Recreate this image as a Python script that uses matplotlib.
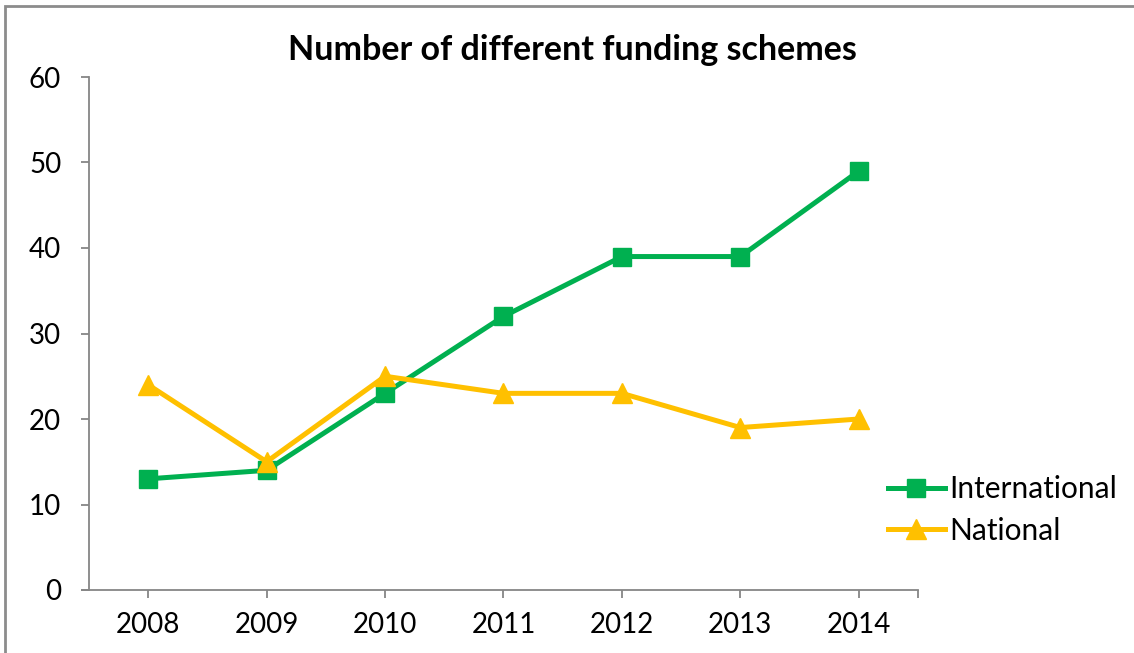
import matplotlib
matplotlib.use("Agg")
import matplotlib.pyplot as plt
from matplotlib.patches import Rectangle

years = ["2008", "2009", "2010", "2011", "2012", "2013", "2014"]
international = [13, 14, 23, 32, 39, 39, 49]
national = [24, 15, 25, 23, 23, 19, 20]

GREEN = "#00B050"
GOLD = "#FFC000"
AXIS_GRAY = "#868686"

plt.rcParams["font.family"] = ["Lato", "DejaVu Sans"]

W, H = 1134, 653
fig = plt.figure(figsize=(W / 100, H / 100), dpi=100)
ax = fig.add_axes([89 / W, 1 - 590 / H, (918 - 89) / W, (590 - 77) / H])

x = list(range(len(years)))
ax.plot(x, international, color=GREEN, lw=3.6, marker="s", ms=13,
        label="International", zorder=3)
ax.plot(x, national, color=GOLD, lw=3.6, marker="^", ms=14,
        label="National", zorder=4)

ax.set_xlim(-0.5, 6.5)
ax.set_ylim(0, 60)
ax.set_yticks(range(0, 61, 10))
ax.set_xticks(x)
ax.set_xticklabels(years)
ax.set_xticks([6.5], minor=True)

for side in ["top", "right"]:
    ax.spines[side].set_visible(False)
for side in ["left", "bottom"]:
    ax.spines[side].set_color(AXIS_GRAY)
    ax.spines[side].set_linewidth(1.3)
ax.spines["bottom"].set_bounds(-0.5 - 7 / 118.5, 6.5)

ax.tick_params(axis="both", which="both", direction="out", length=6,
               width=1.3, color=AXIS_GRAY, labelsize=20, labelcolor="black")
ax.tick_params(axis="x", pad=10)
ax.tick_params(axis="y", pad=14)

fig.text(572 / W, 1 - 50 / H, "Number of different funding schemes",
         ha="center", va="center", fontsize=24.5, fontweight="bold")

ax.legend(loc="center left", bbox_to_anchor=(888 / W, 1 - 510 / H),
          bbox_transform=fig.transFigure, frameon=False, fontsize=21.5,
          handlelength=1.9, handletextpad=0.15, labelspacing=0.45,
          borderpad=0, borderaxespad=0)

fig.patches.append(Rectangle((5 / W, -0.1), 1.2, 1.1 - 6 / H,
                             transform=fig.transFigure, fill=False,
                             edgecolor="#8c8c8c", lw=2))

fig.savefig("out.png", dpi=100)
